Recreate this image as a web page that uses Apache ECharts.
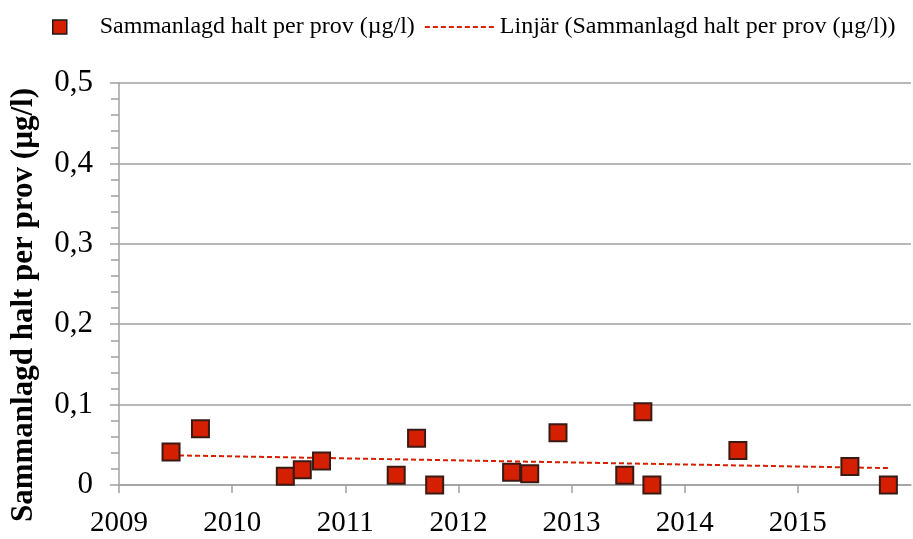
<!DOCTYPE html>
<html>
<head>
<meta charset="utf-8">
<script src="https://cdn.jsdelivr.net/npm/echarts@6/dist/echarts.min.js"></script>
<style>
html,body{margin:0;padding:0;background:#fff;}
#c{width:913px;height:539px;}
</style>
</head>
<body>
<div id="c"></div>
<script>
// Sample dates (decimal years) and combined concentration per sample (µg/l)
const sampleYears = [2009.46, 2009.72, 2010.47, 2010.62, 2010.79, 2011.45, 2011.63, 2011.79,
  2012.47, 2012.63, 2012.88, 2013.47, 2013.63, 2013.71, 2014.47, 2015.46, 2015.80];
const sampleValues = [0.041, 0.070, 0.011, 0.019, 0.030, 0.012, 0.058, 0.000,
  0.016, 0.014, 0.065, 0.012, 0.091, 0.000, 0.043, 0.023, 0.000];
// Linear trend line end points
const trendYears = [2009.46, 2015.80];
const trendValues = [0.037, 0.021];
const xTicks = [2009, 2010, 2011, 2012, 2013, 2014, 2015, 2016];
const yTicks = [0, 0.1, 0.2, 0.3, 0.4, 0.5];
const seriesName = 'Sammanlagd halt per prov (µg/l)';
const trendName = 'Linjär (Sammanlagd halt per prov (µg/l))';
const yAxisTitle = 'Sammanlagd halt per prov (µg/l)';

const font = 'Liberation Serif, Times New Roman, serif';
const chart = echarts.init(document.getElementById('c'), null, {renderer: 'canvas'});
chart.setOption({
  animation: false,
  backgroundColor: '#ffffff',
  textStyle: {fontFamily: font},
  grid: {left: 117, right: 2, top: 83, bottom: 54, containLabel: false},
  legend: {
    left: 47, top: 10, width: 960,
    itemWidth: 70, itemHeight: 14, itemGap: 9,
    symbolKeepAspect: true,
    textStyle: {fontFamily: font, fontSize: 24, color: '#000'},
    data: [
      {name: seriesName, icon: 'path://M0,0L10,0L10,10L0,10Z', itemStyle: {color: '#d42000', borderColor: '#1a1a1a', borderWidth: 1.5}},
      {name: trendName, itemStyle: {color: 'rgba(0,0,0,0)', borderColor: 'rgba(0,0,0,0)', opacity: 0}}
    ]
  },
  xAxis: {
    type: 'value',
    min: xTicks[0], max: xTicks[xTicks.length - 1], interval: 1,
    axisLine: {show: true, lineStyle: {color: '#a0a0a0', width: 1.5}},
    axisTick: {show: true, inside: false, length: 8, lineStyle: {color: '#a0a0a0', width: 1.5}},
    splitLine: {show: false},
    axisLabel: {
      fontFamily: font, fontSize: 29, color: '#000', margin: 24,
      showMaxLabel: false,
      formatter: v => (v === xTicks[xTicks.length - 1] ? '' : String(v))
    }
  },
  yAxis: {
    type: 'value',
    min: yTicks[0], max: yTicks[yTicks.length - 1], interval: 0.1,
    name: yAxisTitle,
    nameLocation: 'middle',
    nameGap: 80,
    nameTextStyle: {fontFamily: font, fontSize: 31, fontWeight: 'bold', color: '#000', padding: [0, 42, 0, 0]},
    axisLine: {show: true, lineStyle: {color: '#a0a0a0', width: 1.5}},
    axisTick: {show: true, inside: false, length: 9, lineStyle: {color: '#a0a0a0', width: 1.5}},
    minorTick: {show: true, splitNumber: 5, length: 8, lineStyle: {color: '#a0a0a0', width: 1.5}},
    splitLine: {show: true, lineStyle: {color: '#a0a0a0', width: 1.5}},
    axisLabel: {
      fontFamily: font, fontSize: 31, color: '#000', margin: 26,
      formatter: v => String(Math.round(v * 10) / 10).replace('.', ',')
    }
  },
  series: [
    {
      name: seriesName,
      type: 'scatter',
      symbol: 'rect',
      symbolSize: 17,
      symbolKeepAspect: true,
      itemStyle: {color: '#d42000', borderColor: '#3a1a14', borderWidth: 2, opacity: 1},
      data: sampleYears.map((x, i) => [x, sampleValues[i]]),
      z: 3
    },
    {
      name: trendName,
      type: 'line',
      showSymbol: false,
      symbol: 'none',
      lineStyle: {color: '#d42000', width: 2, type: [5, 3]},
      itemStyle: {color: '#d42000'},
      data: trendYears.map((x, i) => [x, trendValues[i]]),
      z: 2
    }
  ]
});
</script>
</body>
</html>
